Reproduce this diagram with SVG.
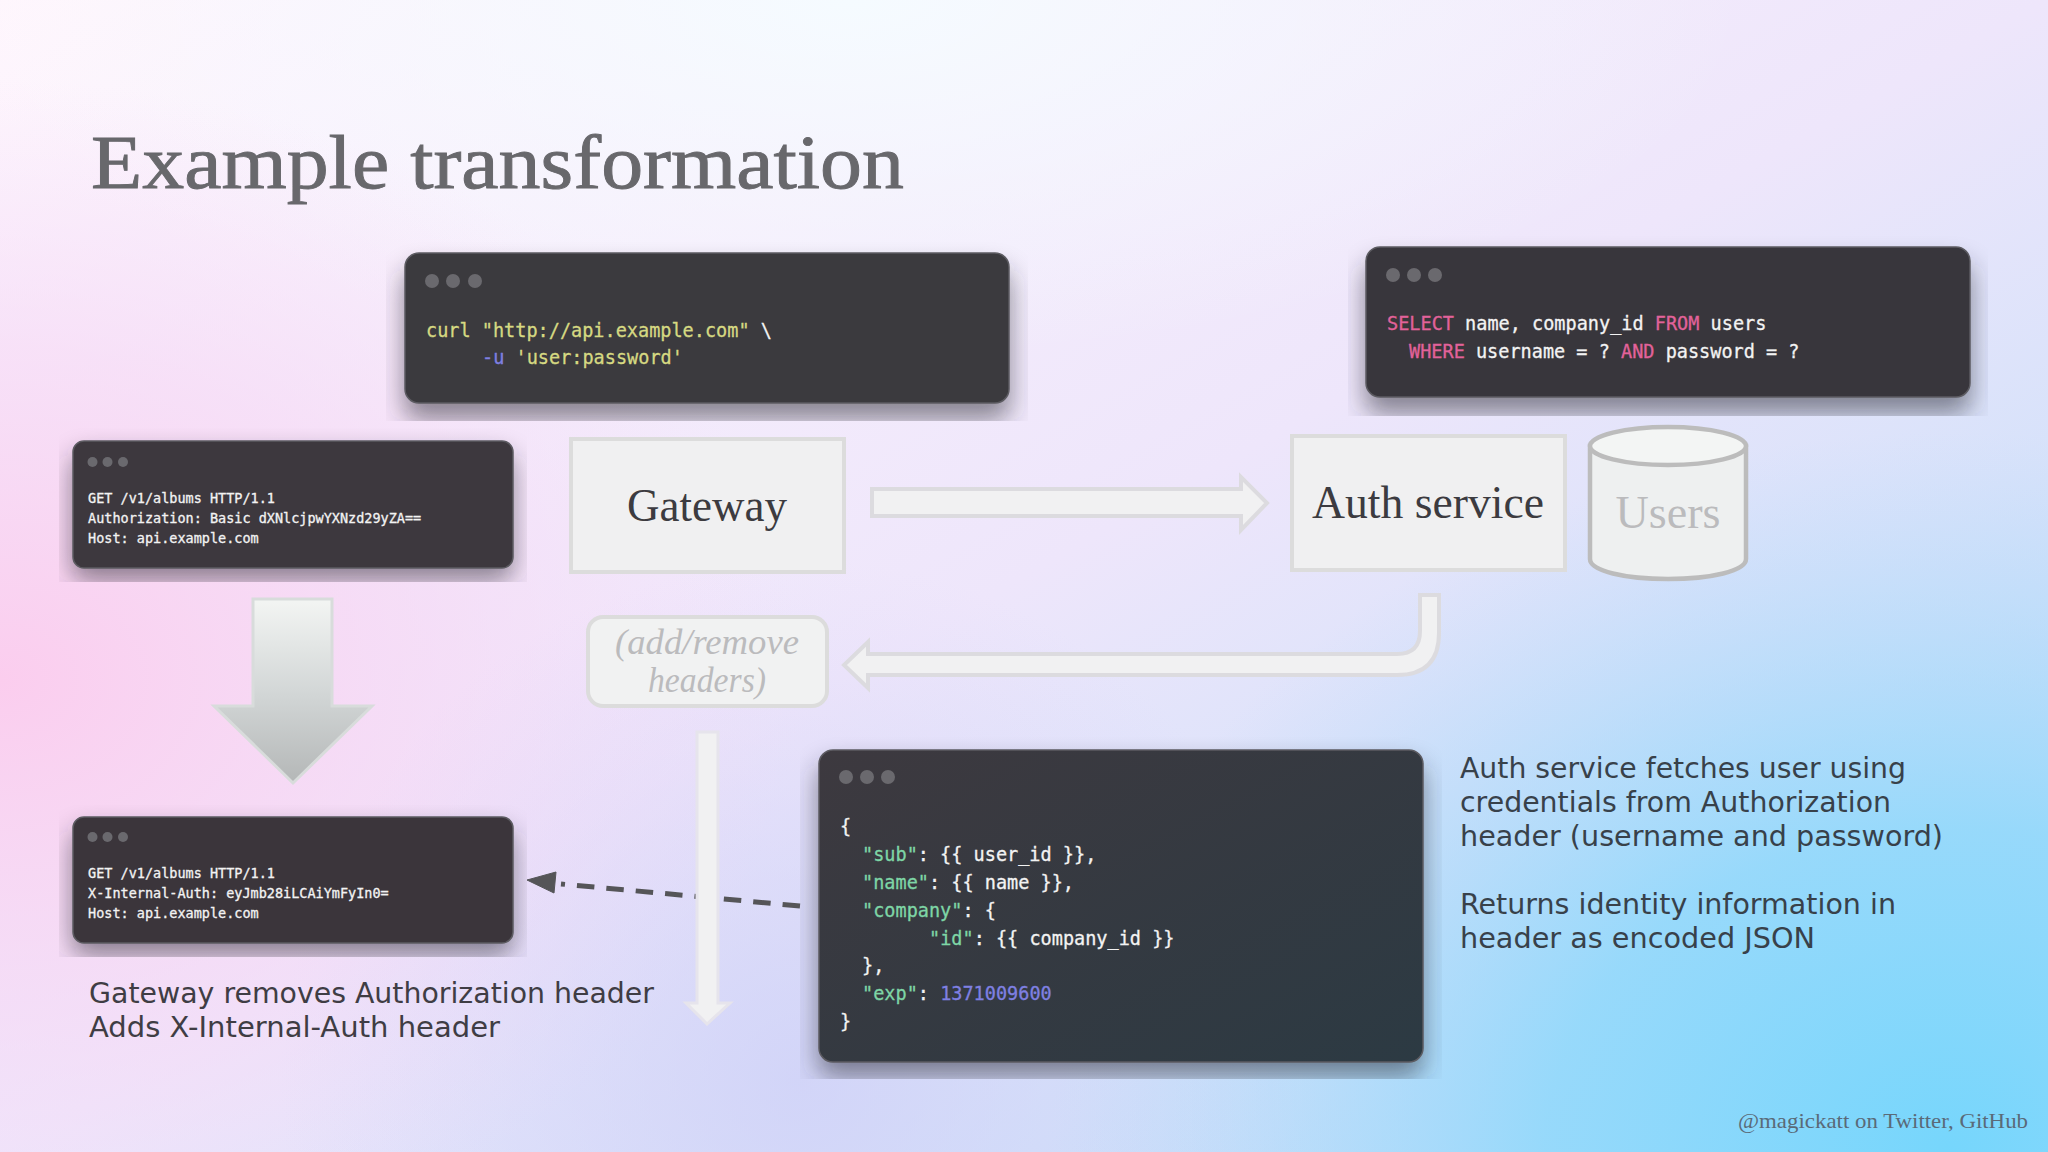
<svg xmlns="http://www.w3.org/2000/svg" width="2048" height="1152" viewBox="0 0 2048 1152">
<style>
.card{stroke:#5c5b61;stroke-width:1.500}
.dot{fill:#6a696e}
.code{font-family:"DejaVu Sans Mono","Liberation Mono",monospace;fill:#f3f3f3;stroke:#f3f3f3;stroke-width:.3}
.c18{font-size:18.55px}
.c13{font-size:13.5px}
.y{fill:#d6d982;stroke:#d6d982}.v{fill:#7f80e2;stroke:#7f80e2}.p{fill:#e2629a;stroke:#e2629a}.g{fill:#7ed6a6;stroke:#7ed6a6}
.box{fill:#f0f0f1;stroke:#dcdcdc;stroke-width:4}
.serif{font-family:"Liberation Serif","DejaVu Serif",serif}
.label{font-size:46px;fill:#3c3b40;text-anchor:middle}
.faint{fill:#bbbbbd}
.sans{font-family:"DejaVu Sans",sans-serif;font-size:28px}
.arrow{fill:#f1f1f2;stroke:#dcdbdf;stroke-width:4;stroke-linejoin:miter}
.shadow{fill:#22222c;opacity:.5}
</style>
<defs>
<linearGradient id="bg" x1="0" y1="0" x2="1" y2="1"><stop offset="0" stop-color="#fff6fd"/><stop offset=".5" stop-color="#eee6fb"/><stop offset="1" stop-color="#b4dcf9"/></linearGradient>
<radialGradient id="pink" gradientUnits="userSpaceOnUse" cx="0" cy="680" r="800" gradientTransform="translate(0 680) scale(1 .75) translate(0 -680)"><stop offset="0" stop-color="#fbcdee"/><stop offset=".55" stop-color="#f6d8f5" stop-opacity=".65"/><stop offset="1" stop-color="#f4dcf8" stop-opacity="0"/></radialGradient>
<radialGradient id="cyan" gradientUnits="userSpaceOnUse" cx="1950" cy="1152" r="900" gradientTransform="translate(1950 1152) scale(1 .8) translate(-1950 -1152)"><stop offset="0" stop-color="#76d6fc"/><stop offset=".45" stop-color="#8fd8fb" stop-opacity=".85"/><stop offset="1" stop-color="#b8d8fa" stop-opacity="0"/></radialGradient>
<radialGradient id="top" gradientUnits="userSpaceOnUse" cx="850" cy="0" r="900" gradientTransform="translate(850 0) scale(1 .4) translate(-850 0)"><stop offset="0" stop-color="#f5fbff"/><stop offset="1" stop-color="#f5fbff" stop-opacity="0"/></radialGradient>
<radialGradient id="lav" gradientUnits="userSpaceOnUse" cx="800" cy="1080" r="520"><stop offset="0" stop-color="#cfd0f7" stop-opacity=".75"/><stop offset="1" stop-color="#d8d4f8" stop-opacity="0"/></radialGradient>
<linearGradient id="json" x1="0" y1="0" x2="1" y2="1"><stop offset="0" stop-color="#3d393f"/><stop offset="1" stop-color="#2c3a43"/></linearGradient>
<linearGradient id="big" x1="0" y1="0" x2="0" y2="1"><stop offset="0" stop-color="#f3f5f3"/><stop offset=".5" stop-color="#d3d7d7"/><stop offset="1" stop-color="#b4b7b7"/></linearGradient>
<filter id="blur" x="-10%" y="-40%" width="120%" height="180%"><feGaussianBlur stdDeviation="13"/></filter>
<clipPath id="s1"><rect x="386" y="236" width="642" height="185"/></clipPath>
<clipPath id="s2"><rect x="1348" y="230" width="640" height="186"/></clipPath>
<clipPath id="s3"><rect x="59" y="428" width="468" height="154"/></clipPath>
<clipPath id="s4"><rect x="59" y="805" width="468" height="152"/></clipPath>
<clipPath id="s5"><rect x="800" y="733" width="642" height="346"/></clipPath>
</defs>
<rect id="background" width="2048" height="1152" fill="url(#bg)"/>
<rect width="2048" height="1152" fill="url(#top)"/>
<rect width="2048" height="1152" fill="url(#pink)"/>
<rect width="2048" height="1152" fill="url(#lav)"/>
<rect width="2048" height="1152" fill="url(#cyan)"/>

<text id="title" class="serif" x="91" y="188" font-size="76" fill="#68686c" stroke="#68686c" stroke-width=".9" textLength="813" lengthAdjust="spacingAndGlyphs">Example transformation</text>

<g id="connectors">
<path class="arrow" d="M872 489H1241V477L1267 503L1241 530V516H872Z"/>
<path class="arrow" d="M1420 595H1439V633Q1439 675 1397 675H868V688L844 665L868 642V654H1397Q1420 654 1420 631Z"/>
<path d="M253 599H332V706H372L293 783L214 706H253Z" fill="url(#big)" stroke="#d8dcdb" stroke-width="3"/>
<line x1="800" y1="906" x2="561" y2="884" stroke="#555558" stroke-width="5" stroke-dasharray="17.5 12"/>
<path d="M527 880L556 872L554 893Z" fill="#555558" stroke="#555558" stroke-width="1"/>
<path class="arrow" style="stroke:#e6e4ec;stroke-width:3" d="M697 732H718V1003H730L707 1024L686 1003H697Z"/>
</g>

<g id="card-curl">
<g clip-path="url(#s1)"><rect class="shadow" x="404" y="270" width="606" height="150" rx="14" filter="url(#blur)"/></g>
<rect class="card" x="405" y="253" width="604" height="150" rx="14" fill="#3b3a3e"/>
<circle class="dot" cx="432" cy="281" r="7"/><circle class="dot" cx="453" cy="281" r="7"/><circle class="dot" cx="475" cy="281" r="7"/>
<text class="code c18 y" x="426" y="337">curl "http://api.example.com" <tspan style="fill:#f3f3f3;stroke:#f3f3f3">\</tspan></text>
<text class="code c18" x="482" y="364"><tspan class="v">-u</tspan> <tspan class="y">'user:password'</tspan></text>
</g>

<g id="card-sql">
<g clip-path="url(#s2)"><rect class="shadow" x="1365" y="264" width="606" height="150" rx="14" filter="url(#blur)"/></g>
<rect class="card" x="1366" y="247" width="604" height="150" rx="14" fill="#38363c"/>
<circle class="dot" cx="1393" cy="275" r="7"/><circle class="dot" cx="1414" cy="275" r="7"/><circle class="dot" cx="1435" cy="275" r="7"/>
<text class="code c18" x="1387" y="330"><tspan class="p">SELECT</tspan> name, company_id <tspan class="p">FROM</tspan> users</text>
<text class="code c18" x="1409" y="358"><tspan class="p">WHERE</tspan> username = ? <tspan class="p">AND</tspan> password = ?</text>
</g>

<g id="card-request">
<g clip-path="url(#s3)"><rect class="shadow" x="72" y="455" width="441" height="126" rx="12" filter="url(#blur)"/></g>
<rect class="card" x="73" y="441" width="440" height="127" rx="11" fill="#3d383e"/>
<circle class="dot" cx="92.500" cy="462" r="5"/><circle class="dot" cx="107.500" cy="462" r="5"/><circle class="dot" cx="123" cy="462" r="5"/>
<text class="code c13" x="88" y="503">GET /v1/albums HTTP/1.1</text>
<text class="code c13" x="88" y="523">Authorization: Basic dXNlcjpwYXNzd29yZA==</text>
<text class="code c13" x="88" y="543">Host: api.example.com</text>
</g>

<g id="card-rewritten">
<g clip-path="url(#s4)"><rect class="shadow" x="72" y="831" width="441" height="125" rx="12" filter="url(#blur)"/></g>
<rect class="card" x="73" y="817" width="440" height="126" rx="11" fill="#3b353b"/>
<circle class="dot" cx="92.500" cy="837" r="5"/><circle class="dot" cx="107.500" cy="837" r="5"/><circle class="dot" cx="123" cy="837" r="5"/>
<text class="code c13" x="88" y="878">GET /v1/albums HTTP/1.1</text>
<text class="code c13" x="88" y="898">X-Internal-Auth: eyJmb28iLCAiYmFyIn0=</text>
<text class="code c13" x="88" y="918">Host: api.example.com</text>
</g>

<g id="card-json">
<g clip-path="url(#s5)"><rect class="shadow" x="818" y="765" width="605" height="312" rx="14" filter="url(#blur)"/></g>
<rect class="card" x="819" y="750" width="604" height="312" rx="14" fill="url(#json)"/>
<circle class="dot" cx="846" cy="777" r="7"/><circle class="dot" cx="867" cy="777" r="7"/><circle class="dot" cx="888" cy="777" r="7"/>
<text class="code c18" x="840" y="833">{</text>
<text class="code c18" x="862" y="861"><tspan class="g">"sub"</tspan>: {{ user_id }},</text>
<text class="code c18" x="862" y="889"><tspan class="g">"name"</tspan>: {{ name }},</text>
<text class="code c18" x="862" y="917"><tspan class="g">"company"</tspan>: {</text>
<text class="code c18" x="929" y="945"><tspan class="g">"id"</tspan>: {{ company_id }}</text>
<text class="code c18" x="862" y="972">},</text>
<text class="code c18" x="862" y="1000"><tspan class="g">"exp"</tspan>: <tspan class="v">1371009600</tspan></text>
<text class="code c18" x="840" y="1028">}</text>
</g>

<g id="gateway">
<rect class="box" x="571" y="439" width="273" height="133"/>
<text class="serif label" x="707" y="521" textLength="160" lengthAdjust="spacingAndGlyphs">Gateway</text>
</g>
<g id="auth-service">
<rect class="box" x="1292" y="436" width="273" height="134"/>
<text class="serif label" x="1428" y="518" textLength="232" lengthAdjust="spacingAndGlyphs">Auth service</text>
</g>
<g id="users">
<path d="M1590 446V559C1590 571 1625 579 1668 579S1746 571 1746 559V446Z" fill="#eef0f0" stroke="#bcbcbc" stroke-width="4.500"/>
<ellipse cx="1668" cy="446" rx="78" ry="19" fill="#f3f5f4" stroke="#bcbcbc" stroke-width="4.500"/>
<text class="serif label faint" x="1668" y="528" textLength="105" lengthAdjust="spacingAndGlyphs">Users</text>
</g>
<g id="add-remove-headers">
<rect x="588" y="617" width="239" height="89" rx="15" fill="#f1f2f2" stroke="#dcdcdc" stroke-width="4"/>
<text class="serif faint" x="707" y="654" font-size="36" font-style="italic" text-anchor="middle" textLength="184" lengthAdjust="spacingAndGlyphs">(add/remove</text>
<text class="serif faint" x="707" y="692" font-size="36" font-style="italic" text-anchor="middle" textLength="118" lengthAdjust="spacingAndGlyphs">headers)</text>
</g>

<g id="notes" fill="#3f3d44">
<text class="sans" x="89" y="1003" textLength="565" lengthAdjust="spacingAndGlyphs">Gateway removes Authorization header</text>
<text class="sans" x="89" y="1037" textLength="411" lengthAdjust="spacingAndGlyphs">Adds X-Internal-Auth header</text>
<g fill="#38414a">
<text class="sans" x="1460" y="778" textLength="446" lengthAdjust="spacingAndGlyphs">Auth service fetches user using</text>
<text class="sans" x="1460" y="812" textLength="431" lengthAdjust="spacingAndGlyphs">credentials from Authorization</text>
<text class="sans" x="1460" y="846" textLength="483" lengthAdjust="spacingAndGlyphs">header (username and password)</text>
<text class="sans" x="1460" y="914" textLength="436" lengthAdjust="spacingAndGlyphs">Returns identity information in</text>
<text class="sans" x="1460" y="948" textLength="355" lengthAdjust="spacingAndGlyphs">header as encoded JSON</text>
</g>
<text class="serif" x="1738" y="1128" font-size="21" fill="#5a6a78" textLength="290" lengthAdjust="spacingAndGlyphs">@magickatt on Twitter, GitHub</text>
</g>
</svg>
